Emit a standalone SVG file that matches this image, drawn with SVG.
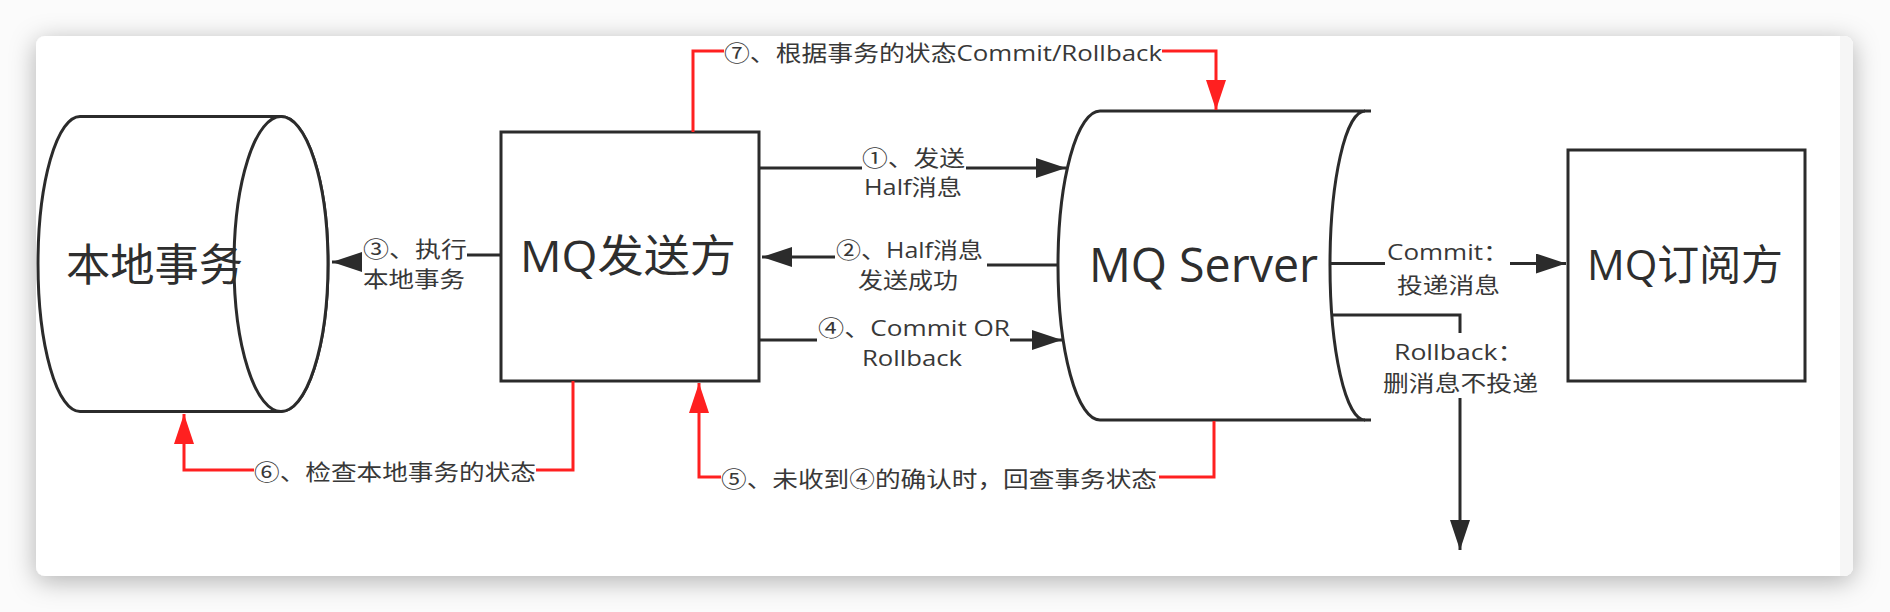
<svg xmlns="http://www.w3.org/2000/svg" width="1890" height="612" viewBox="0 0 1890 612">
<style>
  .node { fill: #ffffff; stroke: #2b2b2b; stroke-width: 3; }
  .big { font-family: "Open Sans", "Noto Sans CJK SC", sans-serif; fill: #2e2e2e; }
  .lbl { font-family: "Open Sans", "Noto Sans CJK SC", sans-serif; font-size: 22px; fill: #383838; }
  .cb { fill: none; stroke: #2b2b2b; stroke-width: 3; }
  .cr { fill: none; stroke: #ff2020; stroke-width: 3; }
  .ab { marker-end: url(#ab); }
  .ar { marker-end: url(#ar); }
</style>
<defs>
  <filter id="sh" x="-5%" y="-20%" width="110%" height="145%">
    <feDropShadow dx="0" dy="5" stdDeviation="13" flood-color="#000000" flood-opacity="0.3"/>
  </filter>
  <clipPath id="cardclip"><rect x="36" y="36" width="1817" height="540" rx="9"/></clipPath>
  <marker id="ab" markerUnits="userSpaceOnUse" viewBox="0 0 30 20" markerWidth="30" markerHeight="20" refX="30" refY="10" orient="auto">
    <path d="M0,0 L30,10 L0,20 Z" fill="#2b2b2b"/>
  </marker>
  <marker id="ar" markerUnits="userSpaceOnUse" viewBox="0 0 30 20" markerWidth="30" markerHeight="20" refX="30" refY="10" orient="auto">
    <path d="M0,0 L30,10 L0,20 Z" fill="#ff2020"/>
  </marker>
</defs>

<rect x="0" y="0" width="1890" height="612" fill="#fbfbfb"/>
<g id="card">
  <rect x="36" y="36" width="1817" height="540" rx="9" fill="#ffffff" filter="url(#sh)"/>
  <rect x="1840" y="36" width="13" height="540" fill="#f6f6f6" clip-path="url(#cardclip)"/>
</g>

<g id="node-local-tx">
  <path class="node" d="M80,116.5 L281,116.5 A47,147.5 0 0 1 281,411.5 L80,411.5 A42,147.5 0 0 1 80,116.5 Z"/>
  <ellipse class="node" cx="281" cy="264" rx="47" ry="147.5"/>
  <text class="big" x="66" y="281" font-size="44" textLength="177" lengthAdjust="spacingAndGlyphs">本地事务</text>
</g>

<g id="node-mq-producer">
  <rect class="node" x="501" y="132" width="258" height="249"/>
  <text class="big" x="520" y="272" font-size="44" textLength="216" lengthAdjust="spacingAndGlyphs">MQ发送方</text>
</g>

<g id="node-mq-server">
  <path class="node" d="M1100,111 L1365,111 A35,154.5 0 0 0 1365,420 L1100,420 A42,154.5 0 0 1 1100,111 Z"/>
  <path class="cb" d="M1364,111 L1371,111 M1364,420 L1371,420"/>
  <text class="big" x="1089" y="281.5" font-size="48" textLength="229" lengthAdjust="spacingAndGlyphs">MQ Server</text>
</g>

<g id="node-mq-consumer">
  <rect class="node" x="1568" y="150" width="237" height="231"/>
  <text class="big" x="1587" y="280" font-size="42" textLength="196" lengthAdjust="spacingAndGlyphs">MQ订阅方</text>
</g>

<g id="connectors">
  <path class="cb" d="M759,168 L862,168"/>
  <path class="cb ab" d="M966,168 L1066,168"/>
  <path class="cb" d="M1058,265 L987,265"/>
  <path class="cb ab" d="M835,257 L762,257"/>
  <path class="cb" d="M501,255 L467,255"/>
  <path class="cb ab" d="M362,262 L332,262"/>
  <path class="cb" d="M759,340 L817,340"/>
  <path class="cb ab" d="M1010,340 L1062,340"/>
  <path class="cb" d="M1331,263.5 L1385,263.5"/>
  <path class="cb ab" d="M1510,263.5 L1566,263.5"/>
  <path class="cb" d="M1332,315 L1460,315 L1460,333"/>
  <path class="cb ab" d="M1460,398 L1460,550"/>
  <path class="cr" d="M573,381 L573,470 L536,470"/>
  <path class="cr ar" d="M254,470 L184,470 L184,414"/>
  <path class="cr" d="M693,132 L693,51 L724,51"/>
  <path class="cr ar" d="M1162,51 L1216,51 L1216,110"/>
  <path class="cr" d="M1214,421 L1214,477 L1159,477"/>
  <path class="cr ar" d="M721,477 L699,477 L699,383"/>

  <text class="lbl" x="363" y="257" textLength="104" lengthAdjust="spacingAndGlyphs">③、执行</text>
  <text class="lbl" x="363" y="287" textLength="102" lengthAdjust="spacingAndGlyphs">本地事务</text>
  <text class="lbl" x="862" y="166" textLength="103" lengthAdjust="spacingAndGlyphs">①、发送</text>
  <text class="lbl" x="864" y="195" textLength="98" lengthAdjust="spacingAndGlyphs">Half消息</text>
  <text class="lbl" x="836" y="258" textLength="147" lengthAdjust="spacingAndGlyphs">②、Half消息</text>
  <text class="lbl" x="858" y="288" textLength="100" lengthAdjust="spacingAndGlyphs">发送成功</text>
  <text class="lbl" x="818" y="336" textLength="192" lengthAdjust="spacingAndGlyphs">④、Commit OR</text>
  <text class="lbl" x="862" y="366" textLength="100" lengthAdjust="spacingAndGlyphs">Rollback</text>
  <text class="lbl" x="1387" y="260" textLength="122" lengthAdjust="spacingAndGlyphs">Commit：</text>
  <text class="lbl" x="1397" y="293" textLength="103" lengthAdjust="spacingAndGlyphs">投递消息</text>
  <text class="lbl" x="1394" y="360" textLength="130" lengthAdjust="spacingAndGlyphs">Rollback：</text>
  <text class="lbl" x="1383" y="391" textLength="155" lengthAdjust="spacingAndGlyphs">删消息不投递</text>
  <text class="lbl" x="724" y="61" textLength="438" lengthAdjust="spacingAndGlyphs">⑦、根据事务的状态Commit/Rollback</text>
  <text class="lbl" x="254" y="480" textLength="282" lengthAdjust="spacingAndGlyphs">⑥、检查本地事务的状态</text>
  <text class="lbl" x="721" y="487" textLength="436" lengthAdjust="spacingAndGlyphs">⑤、未收到④的确认时，回查事务状态</text>
</g>
</svg>
